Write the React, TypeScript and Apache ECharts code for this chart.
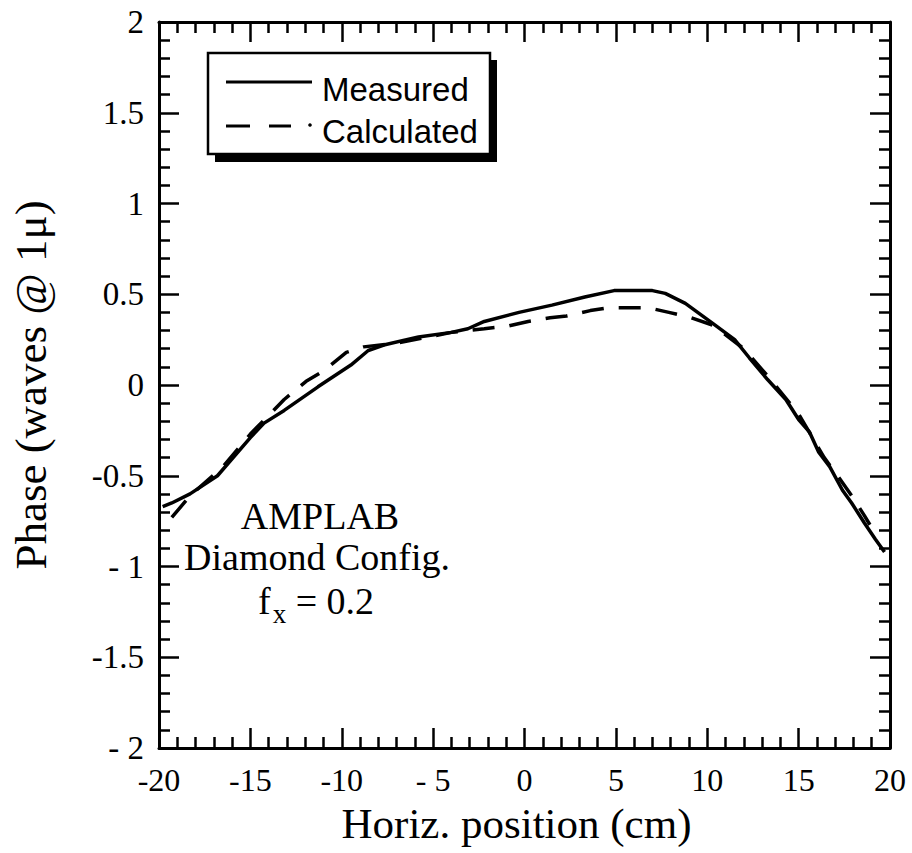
import React, { useEffect, useRef } from "react";
import * as echarts from "echarts";

const measuredX = [-19.8, -19.3, -18.3, -16.8, -15.0, -14.25, -13.15, -11.3, -9.5, -8.55, -7.7, -5.8, -4.0, -3.1, -2.2, -0.3, 1.5, 3.3, 4.9, 7.0, 7.7, 8.8, 10.3, 11.5, 12.3, 13.3, 14.3, 15.0, 15.6, 16.1, 16.7, 17.4, 17.9, 18.6, 19.2, 19.7];
const measuredY = [-0.67, -0.65, -0.6, -0.5, -0.29, -0.21, -0.14, -0.01, 0.11, 0.19, 0.22, 0.265, 0.29, 0.31, 0.35, 0.4, 0.44, 0.485, 0.52, 0.52, 0.505, 0.45, 0.34, 0.25, 0.15, 0.03, -0.08, -0.19, -0.26, -0.37, -0.45, -0.58, -0.65, -0.76, -0.85, -0.92];

const calcX = [-19.3, -18.3, -16.5, -15.0, -13.15, -11.95, -10.96, -9.75, -8.8, -7.0, -5.0, -4.0, -2.2, -0.9, 0.2, 1.4, 2.3, 3.6, 4.6, 5.9, 6.8, 7.9, 9.0, 10.3, 12.0, 13.3, 15.0, 16.4, 17.2, 17.9, 18.6, 18.9];
const calcY = [-0.73, -0.61, -0.45, -0.27, -0.08, 0.02, 0.08, 0.18, 0.21, 0.23, 0.27, 0.29, 0.31, 0.325, 0.35, 0.37, 0.38, 0.41, 0.425, 0.425, 0.425, 0.4, 0.375, 0.33, 0.2, 0.05, -0.16, -0.4, -0.51, -0.61, -0.72, -0.77];

const xTickValues = [-20, -15, -10, -5, 0, 5, 10, 15, 20];
const xTickLabels = ["-20", "-15", "-10", "- 5", "0", "5", "10", "15", "20"];
const yTickValues = [2, 1.5, 1, 0.5, 0, -0.5, -1, -1.5, -2];
const yTickLabels = ["2", "1.5", "1", "0.5", "0", "-0.5", "- 1", "-1.5", "- 2"];

const seriesNames = ["Measured", "Calculated"];
const annotationLines = ["AMPLAB", "Diamond Config."];

const SERIF = "'Liberation Serif', 'Times New Roman', serif";
const SANS = "'Liberation Sans', Arial, sans-serif";

function labelFor(values: number[], labels: string[], v: number) {
  const i = values.findIndex((t) => Math.abs(t - v) < 1e-6);
  return i >= 0 ? labels[i] : "";
}

export default function App() {
  const ref = useRef<HTMLDivElement>(null);
  useEffect(() => {
    document.body.style.margin = "0";
    if (!ref.current) return;
    const chart = echarts.init(ref.current, undefined, { renderer: "svg" });
    const axisLine = { show: true, onZero: false, lineStyle: { color: "#000", width: 3 } };
    const tick = { show: true, inside: true, length: 20, lineStyle: { color: "#000", width: 2.5 } };
    const minor = { show: true, splitNumber: 5, length: 11, lineStyle: { color: "#000", width: 2.5 } };
    const xCommon = {
      type: "value" as const,
      min: -20,
      max: 20,
      interval: 5,
      axisLine,
      splitLine: { show: false },
      axisTick: tick,
      minorTick: minor,
    };
    const yCommon = {
      type: "value" as const,
      min: -2,
      max: 2,
      interval: 0.5,
      axisLine,
      splitLine: { show: false },
      axisTick: tick,
      minorTick: minor,
    };
    chart.setOption({
      animation: false,
      backgroundColor: "#fff",
      grid: { left: 158, right: 22, top: 22, bottom: 105, containLabel: false },
      xAxis: [
        {
          ...xCommon,
          position: "bottom",
          name: "Horiz. position (cm)",
          nameLocation: "middle",
          nameGap: 54,
          nameTextStyle: { fontFamily: SERIF, fontSize: 43, color: "#000", padding: [0, 16, 0, 0] },
          axisLabel: {
            show: true,
            margin: 16,
            fontFamily: SERIF,
            fontSize: 32,
            color: "#000",
            formatter: (v: number) => labelFor(xTickValues, xTickLabels, v),
          },
        },
        { ...xCommon, position: "top", axisLabel: { show: false } },
      ],
      yAxis: [
        {
          ...yCommon,
          position: "left",
          name: "Phase (waves @ 1\u03bc)",
          nameLocation: "middle",
          nameGap: 106,
          nameTextStyle: { fontFamily: SERIF, fontSize: 45, color: "#000" },
          axisLabel: {
            show: true,
            margin: 15,
            fontFamily: SERIF,
            fontSize: 33,
            color: "#000",
            formatter: (v: number) => labelFor(yTickValues, yTickLabels, v),
          },
        },
        { ...yCommon, position: "right", axisLabel: { show: false } },
      ],
      series: [
        {
          name: seriesNames[0],
          type: "line",
          showSymbol: false,
          symbol: "none",
          data: measuredX.map((x, i) => [x, measuredY[i]]),
          lineStyle: { color: "#000", width: 3.5 },
        },
        {
          name: seriesNames[1],
          type: "line",
          showSymbol: false,
          symbol: "none",
          data: calcX.map((x, i) => [x, calcY[i]]),
          lineStyle: { color: "#000", width: 3.5, type: [22, 15] },
        },
      ],
      graphic: [
        { type: "rect", shape: { x: 215, y: 60, width: 282, height: 102 }, style: { fill: "#000" }, z: 100 },
        { type: "rect", shape: { x: 208, y: 53, width: 282, height: 101 }, style: { fill: "#fff", stroke: "#000", lineWidth: 2.5 }, z: 101 },
        { type: "line", shape: { x1: 226, y1: 82, x2: 312, y2: 82 }, style: { stroke: "#000", lineWidth: 3 }, z: 102 },
        { type: "line", shape: { x1: 226, y1: 126, x2: 250, y2: 126 }, style: { stroke: "#000", lineWidth: 3 }, z: 102 },
        { type: "line", shape: { x1: 269, y1: 126, x2: 291, y2: 126 }, style: { stroke: "#000", lineWidth: 3 }, z: 102 },
        { type: "circle", shape: { cx: 310, cy: 125, r: 1.8 }, style: { fill: "#000" }, z: 102 },
        { type: "text", x: 322, y: 89, z: 102, style: { text: seriesNames[0], font: `33px ${SANS}`, fill: "#000", verticalAlign: "middle", align: "left" } },
        { type: "text", x: 322, y: 131, z: 102, style: { text: seriesNames[1], font: `33px ${SANS}`, fill: "#000", verticalAlign: "middle", align: "left" } },
        { type: "text", x: 320, y: 516, z: 102, style: { text: annotationLines[0], font: `38px ${SERIF}`, fill: "#000", verticalAlign: "middle", align: "center" } },
        { type: "text", x: 317, y: 557, z: 102, style: { text: annotationLines[1], font: `38px ${SERIF}`, fill: "#000", verticalAlign: "middle", align: "center" } },
        {
          type: "text",
          x: 258,
          y: 601,
          z: 102,
          style: {
            text: "{f|f}{s|x}{e| = 0.2}",
            verticalAlign: "middle",
            align: "left",
            fill: "#000",
            rich: {
              f: { font: `38px ${SERIF}`, fill: "#000" },
              s: { font: `27px ${SERIF}`, fill: "#000", padding: [26, 0, 0, 2] },
              e: { font: `38px ${SERIF}`, fill: "#000" },
            },
          },
        },
      ],
    });
    return () => chart.dispose();
  }, []);
  return <div ref={ref} style={{ width: 912, height: 853 }} />;
}
